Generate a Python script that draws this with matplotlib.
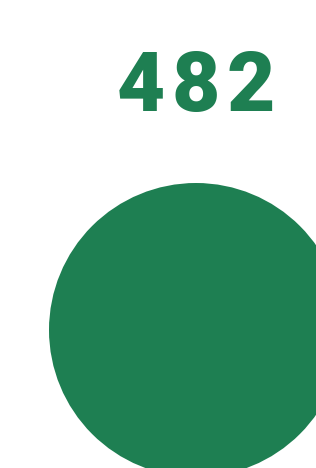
import matplotlib
matplotlib.use("Agg")
from matplotlib import pyplot as plt
from matplotlib.patches import Circle

values = [482]
labels = ["482"]

green = '#1e7f52'
W, H = 316, 468

fig = plt.figure(figsize=(W/100., H/100.), dpi=100)
ax = fig.add_axes([0, 0, 1, 1])
ax.set_xlim(0, W)
ax.set_ylim(H, 0)
ax.set_aspect('equal')
ax.axis('off')

# big number on top, digits spaced out a bit like the original
step = 55
x0 = 196 - step*(len(labels[0])-1)/2.
for i, ch in enumerate(labels[0]):
    ax.text(x0 + i*step, 111, ch, ha='center', va='baseline', color=green,
            fontsize=60, fontweight='heavy', family='Roboto')

# bubble for the value, cut off at the right and the bottom
r = 147
ax.add_patch(Circle((196, 330), r, color=green, lw=0))

fig.savefig('out.png', dpi=100)
